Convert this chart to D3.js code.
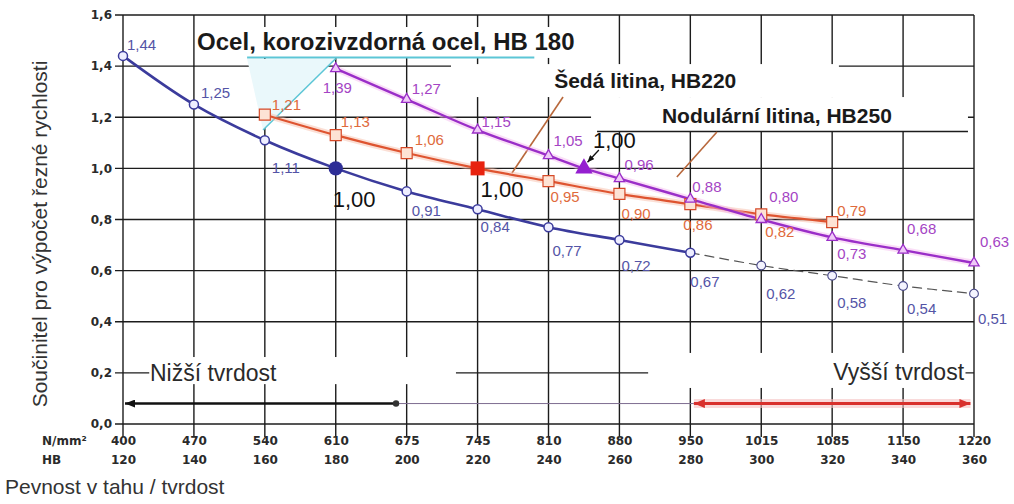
<!DOCTYPE html>
<html>
<head>
<meta charset="utf-8">
<script src="https://cdn.jsdelivr.net/npm/d3@7/dist/d3.min.js"></script>
<style>
  html, body { margin: 0; padding: 0; background: #fff; }
  svg { display: block; }
</style>
</head>
<body>
<svg id="chart" width="1014" height="504"></svg>
<script>
// ---- axis ticks ----
const hbTicks = [120, 140, 160, 180, 200, 220, 240, 260, 280, 300, 320, 340, 360];
const strengthTicks = [400, 470, 540, 610, 675, 745, 810, 880, 950, 1015, 1085, 1150, 1220];
const factorTicks = [0, 0.2, 0.4, 0.6, 0.8, 1.0, 1.2, 1.4, 1.6];

// ---- Ocel, korozivzdorná ocel (HB 180 = 1,00) ----
const steelHB = [120, 140, 160, 180, 200, 220, 240, 260, 280];
const steelFactor = [1.44, 1.25, 1.11, 1.00, 0.91, 0.84, 0.77, 0.72, 0.67];
// extrapolated continuation (dashed)
const steelExtHB = [280, 300, 320, 340, 360];
const steelExtFactor = [0.67, 0.62, 0.58, 0.54, 0.51];

// ---- Šedá litina (HB 220 = 1,00) ----
const greyHB = [160, 180, 200, 220, 240, 260, 280, 300, 320];
const greyFactor = [1.21, 1.13, 1.06, 1.00, 0.95, 0.90, 0.86, 0.82, 0.79];

// ---- Nodulární litina (HB 250 = 1,00) ----
const nodHB = [180, 200, 220, 240, 250, 260, 280, 300, 320, 340, 360];
const nodFactor = [1.39, 1.27, 1.15, 1.05, 1.00, 0.96, 0.88, 0.80, 0.73, 0.68, 0.63];

// reference hardness of each material
const steelRefHB = 180, greyRefHB = 220, nodRefHB = 250;

// hardness ranges shown at the bottom
const lowerRangeHB = [120, 197];
const upperRangeHB = [281, 359];
const rangeLevel = 0.08;

// ---- label offsets (px, relative to the point) ----
const steelLabelOffsets = [[4, -6], [7, -6], [7, 33], [-3, 39], [5, 25], [3, 23], [4, 29], [2, 31], [0, 34]];
const steelExtLabelOffsets = [null, [5, 33], [5, 32], [4, 28], [4, 30]];
const greyLabelOffsets = [[7, -5], [5, -8], [8, -8], [3, 29], [2, 21], [2, 25], [-7, 26], [4, 23], [5, -6]];
const nodLabelOffsets = [[-13, 24], [5, -5], [4, -3], [5, -10], [9, -20], [5, -9], [2, -7], [8, -18], [5, 22], [4, -16], [6, -16]];

// ---------------------------------------------------------------
const svg = d3.select('#chart');
const sans = '"Liberation Sans", Arial, Helvetica, sans-serif';
const wide = '"DejaVu Sans", Verdana, sans-serif';

const x = d3.scaleLinear().domain([120, 360]).range([123, 974]);
const y = d3.scaleLinear().domain([0, 1.6]).range([424, 15]);
const fmt2 = v => v.toFixed(2).replace('.', ',');

const COL = {
  grid: '#1c1c1c',
  steel: '#3b3b9c', steelLabel: '#5454a6',
  grey: '#de5430', greyLabel: '#e06a3c',
  nod: '#9a2ec8', nodLabel: '#a444c4',
  cyan: '#5cc6d6', leader: '#b8683c'
};

// ---- grid ----
const grid = svg.append('g').attr('stroke', COL.grid).attr('stroke-width', 1.4);
grid.selectAll('line.h').data(factorTicks).join('line').attr('class', 'h')
  .attr('x1', x(120) - 8).attr('x2', x(360))
  .attr('y1', d => y(d)).attr('y2', d => y(d));
grid.selectAll('line.v').data(hbTicks).join('line').attr('class', 'v')
  .attr('x1', d => x(d)).attr('x2', d => x(d))
  .attr('y1', y(1.6)).attr('y2', y(0) + 13);

// label backgrounds that interrupt the grid
const masks = [
  [140.3, 249.4, 1.553, 1.432],   // Ocel label
  [212.5, 321.9, 1.408, 1.279],   // Šedá litina label
  [252.0, 358.3, 1.279, 1.146],   // Nodulární litina label
  [127.4, 213.9, 0.262, 0.156],   // Nižší tvrdost
  [268.1, 357.6, 0.278, 0.141]    // Vyšší tvrdost
];
svg.append('g').selectAll('rect').data(masks).join('rect')
  .attr('x', d => x(d[0])).attr('width', d => x(d[1]) - x(d[0]))
  .attr('y', d => y(d[2])).attr('height', d => y(d[3]) - y(d[2]))
  .attr('fill', '#fff');

// ---- callouts ----
const ann = svg.append('g');
// Ocel callout (light cyan wedge, underline, leader)
ann.append('path')
  .attr('d', `M${x(155)},${y(1.428)}L${x(180)},${y(1.428)}L${x(159.5)},${y(1.15)}Z`)
  .attr('fill', '#eaf8fb');
ann.append('line')
  .attr('x1', x(155)).attr('x2', x(236)).attr('y1', y(1.434)).attr('y2', y(1.434))
  .attr('stroke', COL.cyan).attr('stroke-width', 2);
ann.append('line')
  .attr('x1', x(180)).attr('y1', y(1.43)).attr('x2', x(159.5)).attr('y2', y(1.15))
  .attr('stroke', COL.cyan).attr('stroke-width', 1.5);
// Šedá litina leader
ann.append('line')
  .attr('x1', x(244.1)).attr('y1', y(1.279)).attr('x2', x(229.7)).attr('y2', y(0.982))
  .attr('stroke', COL.leader).attr('stroke-width', 1.6);
// Nodulární litina box edge and leader
ann.append('line')
  .attr('x1', x(253.7)).attr('x2', x(358.3)).attr('y1', y(1.144)).attr('y2', y(1.144))
  .attr('stroke', COL.grid).attr('stroke-width', 1.4);
ann.append('line')
  .attr('x1', x(287.5)).attr('y1', y(1.142)).attr('x2', x(276.2)).attr('y2', y(0.966))
  .attr('stroke', COL.leader).attr('stroke-width', 1.6);

// arrowheads
const defs = svg.append('defs');
function arrowHead(id, color, w, h) {
  defs.append('marker').attr('id', id)
    .attr('viewBox', `0 0 ${w} ${h}`).attr('refX', w).attr('refY', h / 2)
    .attr('markerUnits', 'userSpaceOnUse')
    .attr('markerWidth', w).attr('markerHeight', h).attr('orient', 'auto-start-reverse')
    .append('path').attr('d', `M0,0L${w},${h / 2}L0,${h}Z`).attr('fill', color);
}
arrowHead('ahBlack', '#111', 10, 8);
arrowHead('ahRed', '#d8302c', 11, 9);
arrowHead('ahSmall', '#111', 7, 6);

// ---- hardness ranges ----
const rng = svg.append('g');
rng.append('line')
  .attr('x1', x(lowerRangeHB[1])).attr('x2', x(upperRangeHB[0]))
  .attr('y1', y(rangeLevel)).attr('y2', y(rangeLevel))
  .attr('stroke', '#7d6d90').attr('stroke-width', 1);
rng.append('line')
  .attr('x1', x(lowerRangeHB[1])).attr('x2', x(lowerRangeHB[0]) + 2)
  .attr('y1', y(rangeLevel)).attr('y2', y(rangeLevel))
  .attr('stroke', '#111').attr('stroke-width', 2.4)
  .attr('marker-end', 'url(#ahBlack)');
rng.append('circle').attr('cx', x(lowerRangeHB[1])).attr('cy', y(rangeLevel)).attr('r', 3.2).attr('fill', '#333');
rng.append('line')
  .attr('x1', x(upperRangeHB[0])).attr('x2', x(upperRangeHB[1]))
  .attr('y1', y(rangeLevel)).attr('y2', y(rangeLevel))
  .attr('stroke', '#f6c2c2').attr('stroke-width', 9).attr('opacity', 0.6);
rng.append('line')
  .attr('x1', x(upperRangeHB[0])).attr('x2', x(upperRangeHB[1]))
  .attr('y1', y(rangeLevel)).attr('y2', y(rangeLevel))
  .attr('stroke', '#d8302c').attr('stroke-width', 3)
  .attr('marker-start', 'url(#ahRed)').attr('marker-end', 'url(#ahRed)');

// ---- series ----
const curve = d3.curveCatmullRom.alpha(0.5);
const lineGen = d3.line().x(d => x(d[0])).y(d => y(d[1])).curve(curve);
const zip = (a, b) => a.map((v, i) => [v, b[i]]);
const plot = svg.append('g');

function drawLine(pts, color, width, halo, dash) {
  if (halo) {
    plot.append('path').attr('d', lineGen(pts)).attr('fill', 'none')
      .attr('stroke', halo).attr('stroke-width', width + 4).attr('opacity', 0.45)
      .attr('stroke-linecap', 'round');
  }
  plot.append('path').attr('d', lineGen(pts)).attr('fill', 'none')
    .attr('stroke', color).attr('stroke-width', width)
    .attr('stroke-dasharray', dash || null).attr('stroke-linecap', 'round');
}

drawLine(zip(steelExtHB, steelExtFactor), '#555', 1.2, null, '9,6');
drawLine(zip(greyHB, greyFactor), COL.grey, 2.2, '#f7b9a2');
drawLine(zip(nodHB, nodFactor), COL.nod, 2.4, '#f3b6ee');
drawLine(zip(steelHB, steelFactor), COL.steel, 2.6, null);

function markers(hb, val, refHB, type, openSize, refSize, stroke, fill, refFill, sw) {
  plot.append('g').selectAll('path').data(zip(hb, val)).join('path')
    .attr('transform', d => `translate(${x(d[0])},${y(d[1])})`)
    .attr('d', d => d3.symbol().type(type).size(d[0] === refHB ? refSize : openSize)())
    .attr('fill', d => d[0] === refHB ? refFill : fill)
    .attr('stroke', d => d[0] === refHB ? 'none' : stroke)
    .attr('stroke-width', sw);
}
markers(steelExtHB.slice(1), steelExtFactor.slice(1), null, d3.symbolCircle, 60, 0, '#4a4a8a', '#f4f4ff', null, 1.1);
markers(steelHB, steelFactor, steelRefHB, d3.symbolCircle, 64, 160, COL.steel, '#eeeeff', '#2e2e96', 1.5);
markers(greyHB, greyFactor, greyRefHB, d3.symbolSquare, 121, 196, '#d64a28', '#fde3d5', '#e8220f', 1.2);
markers(nodHB, nodFactor, nodRefHB, d3.symbolTriangle, 46, 130, COL.nod, '#efc9f7', '#951fd0', 1.3);

// arrow pointing to the Nodulární reference point
ann.append('line')
  .attr('x1', x(254.2)).attr('y1', y(1.072)).attr('x2', x(251)).attr('y2', y(1.024))
  .attr('stroke', '#111').attr('stroke-width', 1.3)
  .attr('marker-end', 'url(#ahSmall)');

// ---- value labels ----
const lab = svg.append('g').attr('font-family', sans);
function valueLabels(hb, val, offsets, refHB, color) {
  hb.forEach((h, i) => {
    const off = offsets[i];
    if (!off) return;
    const isRef = h === refHB;
    lab.append('text')
      .attr('x', x(h) + off[0]).attr('y', y(val[i]) + off[1])
      .attr('font-size', isRef ? 22 : 15)
      .attr('fill', isRef ? '#111' : color)
      .text(fmt2(val[i]));
  });
}
valueLabels(steelHB, steelFactor, steelLabelOffsets, steelRefHB, COL.steelLabel);
valueLabels(steelExtHB, steelExtFactor, steelExtLabelOffsets, null, COL.steelLabel);
valueLabels(greyHB, greyFactor, greyLabelOffsets, greyRefHB, COL.greyLabel);
valueLabels(nodHB, nodFactor, nodLabelOffsets, nodRefHB, COL.nodLabel);

// ---- material labels ----
const titles = svg.append('g').attr('font-family', sans).attr('fill', '#1a1a1a');
titles.append('text').attr('x', x(140.9)).attr('y', y(1.463))
  .attr('font-size', 24).attr('font-weight', 'bold')
  .text('Ocel, korozivzdorná ocel, HB 180');
titles.append('text').attr('x', x(241.6)).attr('y', y(1.314))
  .attr('font-size', 21).attr('font-weight', 'bold')
  .text('Šedá litina, HB220');
titles.append('text').attr('x', x(272)).attr('y', y(1.178))
  .attr('font-size', 21).attr('font-weight', 'bold')
  .text('Nodulární litina, HB250');
titles.append('text').attr('x', x(127.6)).attr('y', y(0.168))
  .attr('font-size', 23).attr('fill', '#2a2a2a')
  .text('Nižší tvrdost');
titles.append('text').attr('x', x(357.2)).attr('y', y(0.172))
  .attr('font-size', 23).attr('fill', '#2a2a2a').attr('text-anchor', 'end')
  .text('Vyšší tvrdost');

// ---- axes ----
const yAxis = svg.append('g').attr('transform', `translate(${x(120)},0)`)
  .call(d3.axisLeft(y).tickValues(factorTicks).tickSize(0).tickPadding(11)
    .tickFormat(d => d.toFixed(1).replace('.', ',')));
yAxis.select('.domain').remove();
yAxis.selectAll('text').attr('font-family', wide).attr('font-weight', 'bold')
  .attr('font-size', 12).attr('fill', '#2a2a2a');

const row1Y = 445, row2Y = 464;
const xAxisTop = svg.append('g').attr('transform', `translate(0,${row1Y})`)
  .call(d3.axisBottom(x).tickValues(hbTicks).tickSize(0)
    .tickFormat((d, i) => strengthTicks[i]));
const xAxisHB = svg.append('g').attr('transform', `translate(0,${row2Y})`)
  .call(d3.axisBottom(x).tickValues(hbTicks).tickSize(0).tickFormat(d => d));
[xAxisTop, xAxisHB].forEach(a => {
  a.select('.domain').remove();
  a.selectAll('text').attr('y', 0).attr('dy', null)
    .attr('font-family', wide).attr('font-weight', 'bold')
    .attr('font-size', 12).attr('fill', '#2a2a2a');
});

const axisText = svg.append('g').attr('font-family', wide).attr('font-weight', 'bold')
  .attr('font-size', 12).attr('fill', '#2a2a2a');
axisText.append('text').attr('x', 42).attr('y', row1Y).text('N/mm²');
axisText.append('text').attr('x', 42).attr('y', row2Y).text('HB');

svg.append('text')
  .attr('transform', 'translate(47,234) rotate(-90)')
  .attr('text-anchor', 'middle').attr('font-family', sans)
  .attr('font-size', 21).attr('fill', '#333')
  .text('Součinitel pro výpočet řezné rychlosti');

svg.append('text').attr('x', 5).attr('y', 494)
  .attr('font-family', sans).attr('font-size', 21).attr('fill', '#333')
  .text('Pevnost v tahu / tvrdost');
</script>
</body>
</html>
